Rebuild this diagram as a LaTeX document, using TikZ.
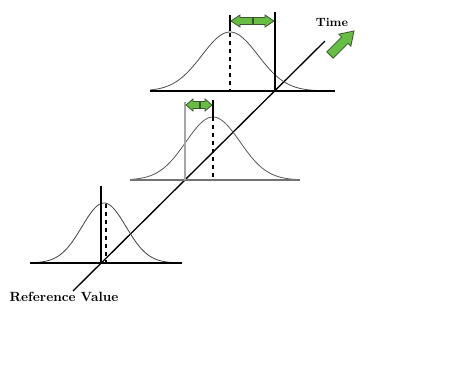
\documentclass[tikz,border=0pt]{standalone}
\definecolor{arrowgreen}{RGB}{104,189,69}
\definecolor{arrowedge}{RGB}{58,84,48}
\begin{document}
\begin{tikzpicture}[x=0.75pt,y=0.75pt,yscale=-1,xscale=1]
%set diagram to the size of the reference
\path (0,0) rectangle (469,386);

%Straight Lines [time axis]
\draw [line width=1]  (73,291) -- (325,41) ;

%Shape: Bell curve [bottom]
\draw [color=black!75,line width=0.6] plot[domain=32:182,samples=80,smooth] (\x,{263-60*exp(-((\x-104)/22)^2/2)}) ;
%Straight Lines [bottom baseline]
\draw [line width=1]  (30,263) -- (182,263) ;
%Straight Lines [reference value]
\draw [line width=1]  (101,186) -- (101,264) ;
%Straight Lines [bottom mean]
\draw [dashed,line width=0.8]  (106,204) -- (106,263) ;

%Shape: Bell curve [middle]
\draw [color=black!65,line width=0.6] plot[domain=132:298,samples=80,smooth] (\x,{180-63*exp(-((\x-213)/27)^2/2)}) ;
%Straight Lines [middle baseline]
\draw [color=black!55,line width=1]  (130,180) -- (300,180) ;
%Straight Lines [middle reference]
\draw [color=black!35,line width=1]  (185,102) -- (185,180) ;
%Straight Lines [middle mean]
\draw [line width=1]  (213,100) -- (213,117) ;
\draw [dashed,line width=0.8]  (213,117) -- (213,180) ;
%Shape: Double arrow [middle]
\draw [fill=arrowgreen,draw=arrowedge,line width=0.6] (186,105) -- (193,99) -- (193,101.5) -- (205,101.5) -- (205,99) -- (212,105) -- (205,111) -- (205,108.5) -- (193,108.5) -- (193,111) -- cycle ;
\draw [color=arrowedge,line width=0.8]  (200,101.5) -- (200,108.5) ;

%Shape: Bell curve [top]
\draw [color=black!70,line width=0.6] plot[domain=150:330,samples=80,smooth] (\x,{91-59*exp(-((\x-230)/28)^2/2)}) ;
%Straight Lines [top baseline]
\draw [line width=1]  (150,91) -- (335,91) ;
%Straight Lines [top reference]
\draw [line width=1]  (275,12) -- (275,92) ;
%Straight Lines [top mean]
\draw [line width=1]  (230,15) -- (230,31) ;
\draw [dashed,line width=0.8]  (230,33) -- (230,91) ;
%Shape: Double arrow [top]
\draw [fill=arrowgreen,draw=arrowedge,line width=0.6] (231,21) -- (240,15) -- (240,17.5) -- (265,17.5) -- (265,15) -- (274,21) -- (265,27) -- (265,24.5) -- (240,24.5) -- (240,27) -- cycle ;
\draw [color=arrowedge,line width=0.8]  (253,17.5) -- (253,24.5) ;

%Shape: Arrow [time direction]
\begin{scope}[shift={(342,43)},rotate=-45]
\draw [fill=arrowgreen,draw=arrowedge,line width=0.6] (-17,-4.5) -- (4,-4.5) -- (4,-8.5) -- (17,0) -- (4,8.5) -- (4,4.5) -- (-17,4.5) -- cycle ;
\end{scope}

% Text Node
\draw (332,22) node [font=\bfseries\small] (timelabel) {Time} ;
% Text Node
\draw (64,297) node [font=\bfseries] (reflabel) {Reference Value} ;

\end{tikzpicture}
\end{document}
